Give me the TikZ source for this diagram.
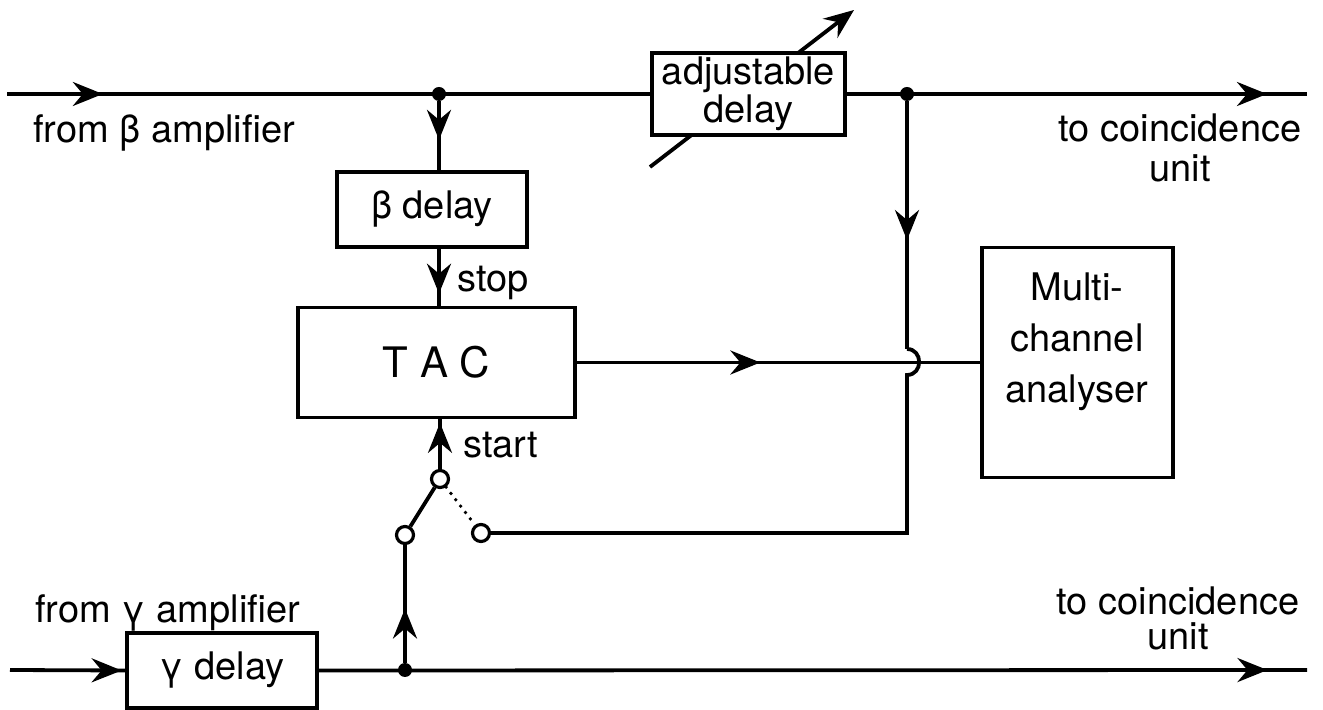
\documentclass[tikz,border=0pt]{standalone}
\usepackage{fontspec}
\setmainfont{TeX Gyre Heros}
\usetikzlibrary{arrows.meta,decorations.markings}

\newlength{\du}
\setlength{\du}{0.5pt}

\tikzset{
  box/.style={draw, fill=white, line width=1.9pt, inner sep=0pt},
  wire/.style={line width=1.9pt},
  flow/.style={postaction={decorate},
    decoration={markings, mark=at position #1 with {\arrow{Stealth[length=15pt,width=12pt,inset=5pt]}}}},
  junction/.style={circle, fill, inner sep=0pt, minimum size=14\du},
  contact/.style={circle, draw, fill=white, line width=1.6pt, inner sep=0pt, minimum size=17\du},
  lbl/.style={inner sep=0pt, font=\fontsize{19}{23}\selectfont},
}

\begin{document}
\begin{tikzpicture}[x=1\du, y=-1\du]
\useasboundingbox (0,0) rectangle (1323,710);
% line ends and bends
\coordinate (inB) at (7,94);
\coordinate (outB) at (1307,94);
\coordinate (inG) at (10,670);
\coordinate (outG) at (1307,670);
\coordinate (knobLo) at (650,167);
\coordinate (knobHi) at (854,10);
\coordinate (hopA) at (907,349);
\coordinate (hopB) at (907,375);
\coordinate (turn) at (907,533);
% adjusting arrow, under the box
\draw[wire, -{Stealth[length=15pt,width=12pt,inset=5pt]}] (knobLo) -- (knobHi);
% boxes
\node[box, minimum width=193\du, minimum height=82\du, align=center, font=\fontsize{19}{17.5}\selectfont] (adj) at (748.5,94) {adjustable\\delay};
\node[box, minimum width=190\du, minimum height=75\du, font=\fontsize{19}{23}\selectfont] (bdelay) at (432,209.5) {β delay};
\node[box, minimum width=277\du, minimum height=110\du, font=\fontsize{21}{25}\selectfont] (tac) at (436.5,362.5) {T A C};
\node[box, minimum width=191\du, minimum height=230\du] (mca) at (1077.5,362.5) {};
\node[lbl, anchor=north, align=center, font=\fontsize{19}{25.5}\selectfont] (mcatext) at (1077,272) {Multi-\\channel\\analyser};
\node[box, minimum width=190\du, minimum height=75\du, font=\fontsize{19}{23}\selectfont] (gdelay) at (222,670.5) {γ delay};
% junctions and switch
\node[junction] (dot1) at (439,94) {};
\node[junction] (dot2) at (907,94) {};
\node[junction] (dot3) at (405,670) {};
\node[contact] (pivot) at (440,479) {};
\node[contact] (cL) at (405,535) {};
\node[contact] (cR) at (481,533) {};
% beta side
\draw[wire, flow=0.149] (inB) -- (adj.west);
\draw[wire, flow=0.913] (adj.east) -- (outB);
\draw[wire, flow=0.56] (dot1) -- (dot1 |- bdelay.north);
\draw[wire, flow=0.79] (bdelay.south -| dot1) -- (tac.north -| dot1);
\draw[wire, flow=0.455] (tac.east) -- (mca.west);
\draw[wire, flow=0.56] (dot2) -- (hopA);
\draw[wire] (hopA) to[out=0, in=0, looseness=1.6] (hopB) -- (turn) -- (cR);
% gamma side
\draw[wire, flow=0.97] (inG) -- (gdelay.west);
\draw[wire, flow=0.96] (gdelay.east) -- (outG);
\draw[wire, flow=0.46] (dot3) -- (cL);
\draw[wire] (pivot) -- (cL);
\draw[wire, line cap=round, dash pattern=on 0pt off 4pt] (pivot) -- (cR);
\draw[wire, flow=0.93] (pivot) -- (pivot |- tac.south);
% labels
\node[lbl, anchor=base west] (fromB) at (33,143) {from β amplifier};
\node[lbl, anchor=north, align=center, font=\fontsize{19}{20}\selectfont] (toB) at (1180,113) {to coincidence\\unit};
\node[lbl, anchor=base west] (fromG) at (35,623) {from γ amplifier};
\node[lbl, anchor=north, align=center, font=\fontsize{19}{17.5}\selectfont] (toG) at (1178,586) {to coincidence\\unit};
\node[lbl, anchor=base west] (stop) at (457,292) {stop};
\node[lbl, anchor=base west] (start) at (463,458) {start};
\end{tikzpicture}
\end{document}
